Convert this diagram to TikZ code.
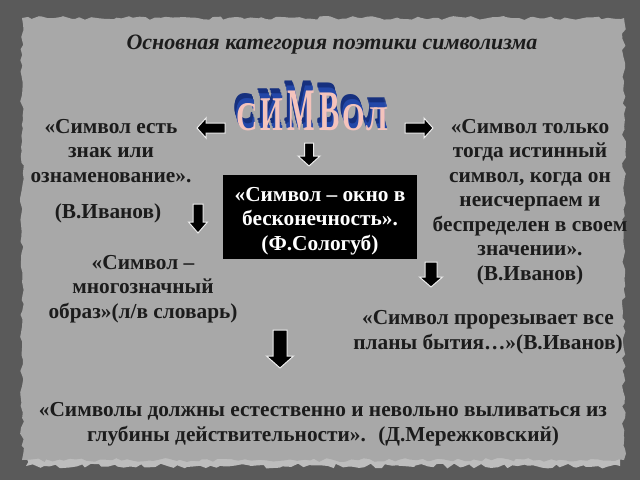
\documentclass[tikz,border=0pt]{standalone}
\usepackage{fontspec}
\usepackage{graphicx}
\setmainfont{Liberation Serif}
\newfontfamily\txtfont{Liberation Serif}
\usetikzlibrary{decorations.pathmorphing}
\definecolor{bordergrey}{HTML}{5A5A5A}
\definecolor{paper}{HTML}{A8A8A8}
\definecolor{paperrim}{HTML}{BDBDBD}
\definecolor{ink}{HTML}{1C1C1C}
\definecolor{wablue}{HTML}{2347A8}
\definecolor{wablued}{HTML}{16307E}
\definecolor{waface}{HTML}{F4C3BC}
\tikzset{
  txt/.style={inner sep=0pt, align=center, text=ink, font=\txtfont\bfseries\fontsize{16}{18.4}\selectfont},
  boxtxt/.style={inner sep=0pt, align=center, text=white, font=\txtfont\bfseries\fontsize{16}{18.4}\selectfont},
  blk/.style={fill=black, draw=white!85!gray, line width=0.75pt, line join=miter},
  wab/.style={inner sep=0pt, text=wablue, font=\txtfont\bfseries\fontsize{23}{23}\selectfont},
  wabd/.style={inner sep=0pt, text=wablued, font=\txtfont\bfseries\fontsize{23}{23}\selectfont},
  waf/.style={inner sep=0pt, text=waface, font=\txtfont\bfseries\fontsize{23}{23}\selectfont},
}
\newcommand\ArrDown[6]{\draw[blk] ({#1-#5},#2) -- ({#1+#5},#2) -- ({#1+#5},#3) -- ({#1+#6},#3) -- (#1,#4) -- ({#1-#6},#3) -- ({#1-#5},#3) -- cycle;}
\newcommand\ArrH[6]{\draw[blk] (#2,{#1-#5}) -- (#3,{#1-#5}) -- (#3,{#1-#6}) -- (#4,#1) -- (#3,{#1+#6}) -- (#3,{#1+#5}) -- (#2,{#1+#5}) -- cycle;}
\newcommand\WLet[5]{%
  \foreach \k in {9,...,5} {\node[wabd, anchor=base] (#1d\k) at ({#2-0.3*\k},{130-1.1*\k}) {\scalebox{#3}[#4]{#5}};}
  \foreach \k in {4,...,1} {\node[wab, anchor=base] (#1b\k) at ({#2-0.3*\k},{130-1.1*\k}) {\scalebox{#3}[#4]{#5}};}
  \node[waf, anchor=base] (#1) at (#2,130) {\scalebox{#3}[#4]{#5}};}
\begin{document}
\begin{tikzpicture}[x=0.75pt,y=-0.75pt]
\useasboundingbox (0,0) rectangle (640,480);
\fill[bordergrey] (0,0) rectangle (640,480);
\pgfmathsetseed{7}
\path[fill=paperrim, decorate, decoration={random steps, segment length=4pt, amplitude=1.8pt}]
  (26,440) -- (620,440) -- (620,466) -- (26,466) -- cycle;
\path[fill=paper, decorate, decoration={random steps, segment length=4pt, amplitude=1.5pt}]
  (22,18) -- (624,18) -- (624,460) -- (22,460) -- cycle;

\node[inner sep=0pt, text=ink, font=\txtfont\bfseries\itshape\fontsize{16.5}{18}\selectfont] (title) at (332,45) {Основная категория поэтики символизма};

% WordArt
\WLet{wc}{247}{0.97}{1.33}{С}
\WLet{wi}{272}{0.95}{1.58}{И}
\WLet{wm}{301}{0.95}{1.97}{М}
\WLet{wv}{330}{1.0}{1.87}{В}
\WLet{wo}{354}{0.95}{1.28}{О}
\WLet{wl}{377}{0.95}{1.13}{Л}

% arrows
\ArrH{128}{225}{206}{197}{5}{10}
\ArrH{128}{405}{424}{433}{5}{10}
\ArrDown{309}{143}{156}{166}{4.5}{11}
\ArrDown{198}{204}{222}{233}{5}{9.5}
\ArrDown{431}{262}{277}{287}{6}{11.5}
\ArrDown{280}{330}{356}{368}{7}{13.5}

% left
\node[txt] (t1) at (111,151) {«Символ есть\\знак или\\ознаменование».};
\node[txt] (t2) at (108,213) {(В.Иванов)};
\node[txt] (t3) at (143,289) {«Символ –\\многозначный\\образ»(л/в словарь)};

% box
\fill[black] (223,175) rectangle (417,259);
\node[boxtxt] (box) at (320,221) {«Символ – окно в\\бесконечность».\\(Ф.Сологуб)};

% right
\node[txt] (t4) at (530,202) {«Символ только\\тогда истинный\\символ, когда он\\неисчерпаем и\\беспределен в своем\\значении».\\(В.Иванов)};
\node[txt] (t5) at (488,332) {«Символ прорезывает все\\планы бытия…»(В.Иванов)};

% bottom
\node[txt] (t6) at (323,424) {«Символы должны естественно и невольно выливаться из\\глубины действительности». \ (Д.Мережковский)};
\end{tikzpicture}
\end{document}
